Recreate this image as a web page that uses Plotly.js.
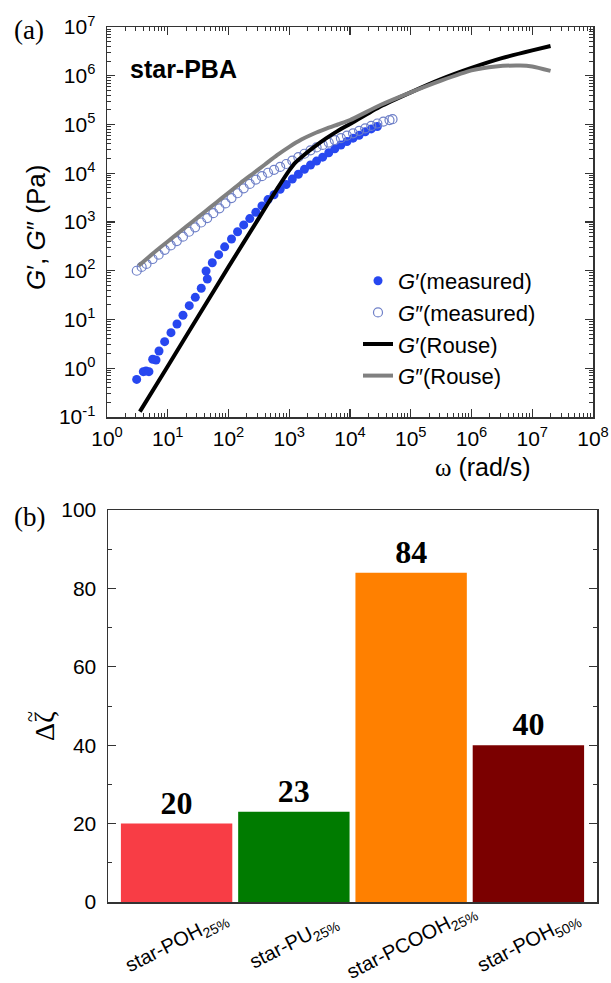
<!DOCTYPE html>
<html>
<head>
<meta charset="utf-8">
<script src="https://cdn.plot.ly/plotly-3.0.1.min.js"></script>
<style>html,body{margin:0;padding:0;background:#fff}#chart{width:611px;height:983px}</style>
</head>
<body>
<div id="chart"></div>
<script>
// ---------- Panel (a): star-PBA rheology ----------
const omegaGpMeas = [3.08, 3.96, 4.39, 4.90, 5.65, 6.41, 7.18, 8.89, 11.3, 14.2, 17.8, 22.6, 28.4, 35.6, 42.7, 44.8, 54.1, 68.9, 86.5,
  112, 141, 178, 224, 282, 355, 447, 562, 708, 891, 1122, 1413, 1778, 2239, 2818, 3548, 4467, 5623, 7079, 8913,
  11220, 14125, 17783, 22387, 28184];
const GpMeas = [0.59, 0.85, 0.88, 0.85, 1.53, 1.48, 2.26, 3.51, 5.37, 8.09, 12.2, 19.2, 28.5, 43.7, 98.9, 67.6, 146, 214, 309,
  447, 631, 871, 1175, 1585, 2138, 2884, 3631, 4677, 5888, 7586, 9550, 12023, 14791, 17783, 21380, 26303, 31623, 38019, 44668,
  52481, 60256, 70795, 81283, 91201];

const omegaGppMeas = [3.09, 3.72, 4.47, 5.62, 7.08, 8.91, 11.2, 14.1, 17.8, 22.4, 28.2, 35.5, 44.7, 56.2, 70.8, 89.1,
  112, 141, 178, 224, 282, 355, 447, 562, 708, 891, 1122, 1413, 1778, 2239, 2818, 3548, 4467, 5623, 7079, 8913,
  11220, 14125, 17783, 22387, 28184, 35481, 44668, 50119];
const GppMeas = [100, 120, 138, 174, 214, 269, 331, 407, 501, 631, 776, 977, 1202, 1514, 1905, 2399,
  3090, 3890, 4898, 6026, 7413, 8710, 10233, 11749, 13490, 15488, 18197, 21380, 25119, 29512, 33884, 38019, 42658, 47863, 52481, 58884,
  66069, 74131, 83176, 93325, 104713, 114815, 123027, 128825];

const omegaGpRouse = [3.47, 10, 31.6, 100, 316, 631, 1000, 1259, 1585, 2512, 3981, 6310, 10000, 31623, 100000, 316228, 1e6, 3.16e6, 1e7, 2e7];
const GpRouse = [0.129, 1.10, 11.5, 120, 1202, 4786, 11482, 16596, 21380, 33884, 51286, 74131, 102329, 234423, 457088, 851138, 1445440, 2290868, 3311311, 4073803];

const omegaGppRouse = [3.31, 6.31, 10, 15.8, 25.1, 39.8, 63.1, 100, 158, 251, 398, 631, 1000, 1585, 2512, 3981, 6310, 10000, 31623, 100000, 316228, 1e6, 2.51e6, 6.31e6, 1e7, 2e7];
const GppRouse = [126, 251, 398, 631, 1000, 1585, 2512, 3981, 6310, 9772, 15136, 23442, 34674, 48978, 64565, 81283, 100000, 123027, 251189, 457088, 794328, 1288250, 1548817, 1621810, 1548817, 1258925];

const xTickVals = [1, 10, 100, 1e3, 1e4, 1e5, 1e6, 1e7, 1e8];
const xTickText = ['10<sup>0</sup>', '10<sup>1</sup>', '10<sup>2</sup>', '10<sup>3</sup>', '10<sup>4</sup>', '10<sup>5</sup>', '10<sup>6</sup>', '10<sup>7</sup>', '10<sup>8</sup>'];
const yTickVals = [0.1, 1, 10, 100, 1e3, 1e4, 1e5, 1e6, 1e7];
const yTickText = ['10<sup>-1</sup>', '10<sup>0</sup>', '10<sup>1</sup>', '10<sup>2</sup>', '10<sup>3</sup>', '10<sup>4</sup>', '10<sup>5</sup>', '10<sup>6</sup>', '10<sup>7</sup>'];

// ---------- Panel (b): friction increment ----------
const categories = ['star-POH25%', 'star-PU25%', 'star-PCOOH25%', 'star-POH50%'];
const categoryLabels = ['star-POH<sub>25%</sub>', 'star-PU<sub>25%</sub>', 'star-PCOOH<sub>25%</sub>', 'star-POH<sub>50%</sub>'];
const deltaZeta = [20, 23, 84, 40];
const barColors = ['#f83d45', '#007b00', '#ff8000', '#7b0000'];

// minor log ticks
function minorLog(lo, hi) {
  const v = [];
  for (let d = lo; d < hi; d++) for (let m = 2; m <= 9; m++) v.push(m * Math.pow(10, d));
  return v;
}

const W = 611, H = 983;
const SANS = 'Liberation Sans, Arial, sans-serif';
const SERIF = 'Liberation Serif, Times New Roman, serif';
const axisColor = '#333';

const traces = [
  {x: omegaGpMeas, y: GpMeas, type: 'scatter', mode: 'markers', name: '<i>G</i>′(measured)',
   marker: {symbol: 'circle', size: 9, color: '#2747f0'}, xaxis: 'x', yaxis: 'y'},
  {x: omegaGppMeas, y: GppMeas, type: 'scatter', mode: 'markers', name: '<i>G</i>″(measured)',
   marker: {symbol: 'circle-open', size: 9, color: '#6f80c8', line: {width: 1.2}}, xaxis: 'x', yaxis: 'y'},
  {x: omegaGpRouse, y: GpRouse, type: 'scatter', mode: 'lines', name: '<i>G</i>′(Rouse)',
   line: {color: '#000', width: 4, shape: 'spline', smoothing: 0.6}, xaxis: 'x', yaxis: 'y'},
  {x: omegaGppRouse, y: GppRouse, type: 'scatter', mode: 'lines', name: '<i>G</i>″(Rouse)',
   line: {color: '#808080', width: 4, shape: 'spline', smoothing: 0.6}, xaxis: 'x', yaxis: 'y'},
  {x: categories, y: deltaZeta, type: 'bar', marker: {color: barColors}, width: 0.95,
   texttemplate: '<b>%{y}</b>', textposition: 'outside', cliponaxis: false,
   textfont: {family: SERIF, size: 32, color: '#000'}, showlegend: false, xaxis: 'x2', yaxis: 'y2'}
];

const annotations = [
  {text: '(a)', x: 12 / W, y: 1 - 30 / H, xref: 'paper', yref: 'paper', xanchor: 'left', yanchor: 'middle', showarrow: false,
   font: {family: SERIF, size: 27, color: '#000'}},
  {text: '(b)', x: 12 / W, y: 1 - 517 / H, xref: 'paper', yref: 'paper', xanchor: 'left', yanchor: 'middle', showarrow: false,
   font: {family: SERIF, size: 27, color: '#000'}},
  {text: '<b>star-PBA</b>', x: 128 / W, y: 1 - 69 / H, xref: 'paper', yref: 'paper', xanchor: 'left', yanchor: 'middle', showarrow: false,
   font: {family: SANS, size: 25, color: '#000'}},
  {text: '<i>G</i>′, <i>G</i>″ (Pa)', x: 36 / W, y: 1 - 228 / H, xref: 'paper', yref: 'paper', xanchor: 'center', yanchor: 'middle',
   textangle: -90, showarrow: false, font: {family: SANS, size: 26, color: '#000'}},
  {text: '<span style="font-family:Liberation Serif">ω</span> (rad/s)', x: 483 / W, y: 1 - 467 / H, xref: 'paper', yref: 'paper',
   xanchor: 'center', yanchor: 'middle', showarrow: false, font: {family: SANS, size: 25, color: '#000'}},
  {text: 'Δζ', x: 44 / W, y: 1 - 726 / H, xref: 'paper', yref: 'paper', xanchor: 'center', yanchor: 'middle',
   textangle: -90, showarrow: false, font: {family: SERIF, size: 28, color: '#000'}},
  {text: '~', x: 30 / W, y: 1 - 716 / H, xref: 'paper', yref: 'paper', xanchor: 'center', yanchor: 'middle',
   textangle: -90, showarrow: false, font: {family: SERIF, size: 20, color: '#000'}}
];
categories.forEach((c, i) => {
  annotations.push({text: categoryLabels[i], x: c, xref: 'x2', y: 1 - 942 / H, yref: 'paper', xanchor: 'center', yanchor: 'middle',
    textangle: -27, showarrow: false, font: {family: SANS, size: 20, color: '#000'}});
});

const layout = {
  width: W, height: H,
  margin: {l: 0, r: 0, t: 0, b: 0},
  paper_bgcolor: '#fff', plot_bgcolor: '#fff',
  font: {family: SANS, size: 21, color: '#000'},
  showlegend: true,
  legend: {x: 358 / W, y: 1 - 260 / H, xanchor: 'left', yanchor: 'top', bgcolor: 'rgba(0,0,0,0)',
           font: {family: SANS, size: 22, color: '#000'}, tracegroupgap: 0, itemwidth: 30},
  xaxis: {type: 'log', domain: [107 / W, 593 / W], range: [0, 8], anchor: 'y',
          tickmode: 'array', tickvals: xTickVals, ticktext: xTickText, ticks: 'inside', ticklen: 8, tickwidth: 1.3, tickcolor: axisColor,
          minor: {tickmode: 'array', tickvals: minorLog(0, 8), ticks: 'inside', ticklen: 4, tickwidth: 1, tickcolor: axisColor, showgrid: false},
          showline: true, linecolor: axisColor, linewidth: 1.5, mirror: 'allticks', showgrid: false, zeroline: false,
          ticklabelstandoff: 2, tickfont: {family: SANS, size: 21}},
  yaxis: {type: 'log', domain: [1 - 417 / H, 1 - 27 / H], range: [-1, 7], anchor: 'x',
          tickmode: 'array', tickvals: yTickVals, ticktext: yTickText, ticks: 'inside', ticklen: 8, tickwidth: 1.3, tickcolor: axisColor,
          minor: {tickmode: 'array', tickvals: minorLog(-1, 7), ticks: 'inside', ticklen: 4, tickwidth: 1, tickcolor: axisColor, showgrid: false},
          showline: true, linecolor: axisColor, linewidth: 1.5, mirror: 'allticks', showgrid: false, zeroline: false,
          ticklabelstandoff: 6, tickfont: {family: SANS, size: 21}},
  xaxis2: {type: 'category', domain: [108 / W, 597 / W], range: [-0.585, 3.585], anchor: 'y2',
           showticklabels: false, ticks: '', showline: true, linecolor: axisColor, linewidth: 1.5, mirror: true,
           showgrid: false, zeroline: false},
  yaxis2: {domain: [1 - 902 / H, 1 - 510 / H], range: [0, 100], anchor: 'x2',
           tickmode: 'linear', tick0: 0, dtick: 20, ticks: 'inside', ticklen: 8, tickwidth: 1.3, tickcolor: axisColor,
           minor: {dtick: 10, tick0: 0, ticks: 'inside', ticklen: 4, tickwidth: 1, tickcolor: axisColor, showgrid: false},
           showline: true, linecolor: axisColor, linewidth: 1.5, mirror: 'allticks', showgrid: false, zeroline: false,
           ticklabelstandoff: 6, tickfont: {family: SANS, size: 21}},
  bargap: 0.05,
  annotations: annotations
};

Plotly.newPlot('chart', traces, layout, {displayModeBar: false, staticPlot: true});
</script>
</body>
</html>
